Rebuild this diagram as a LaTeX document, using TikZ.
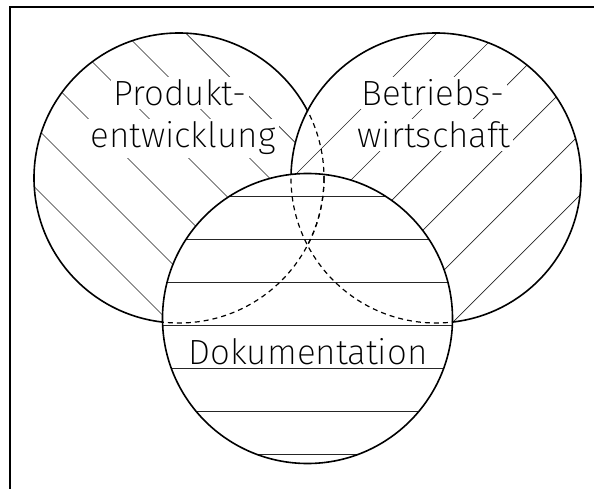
\documentclass[tikz,border=0pt]{standalone}
\usepackage{fontspec}
\newfontfamily\cadfont{Fira Sans ExtraLight}
\begin{document}
\begin{tikzpicture}[x=1pt,y=-1pt,
  outline/.style={line width=1.6pt},
  hidden/.style={line width=1.2pt, dash pattern=on 5pt off 4pt},
  hatch/.style={line width=0.7pt, black!85},
  frameline/.style={line width=1.6pt},
  lbl/.style={fill=white, inner sep=3pt, anchor=base,
    font=\cadfont\fontsize{35}{35}\selectfont}]
\useasboundingbox (0,0) rectangle (594,489);
\def\R{145}
% circle centres
\coordinate (P) at (179,178);
\coordinate (B) at (436,178);
\coordinate (D) at (307.5,318.5);
% open frame
\coordinate (fbl) at (10,489);
\coordinate (ftl) at (10,7);
\coordinate (ftr) at (594,7);
\draw[frameline] (fbl) -- (ftl) -- (ftr);

% Produktentwicklung: back circle, hatched "\"
\fill[white] (P) circle[radius=\R];
\begin{scope}
  \clip (P) circle[radius=\R];
  \foreach \k in {-4,...,5}
    \draw[hatch] (0,{-30.5+61*\k}) -- (600,{569.5+61*\k});
\end{scope}
\draw[outline] (P) circle[radius=\R];

% Betriebswirtschaft: middle circle, hatched "/"
\fill[white] (B) circle[radius=\R];
\begin{scope}
  \clip (B) circle[radius=\R];
  \foreach \k in {5,...,13}
    \draw[hatch] (-100,{143+61*\k}) -- (700,{-657+61*\k});
\end{scope}
\draw[outline] (B) circle[radius=\R];

% Dokumentation: front circle, horizontal hatching
\fill[white] (D) circle[radius=\R];
\begin{scope}
  \clip (D) circle[radius=\R];
  \foreach \k in {0,...,6}
    \draw[hatch] (100,{196.5+43*\k}) -- (520,{196.5+43*\k});
\end{scope}
\draw[outline] (D) circle[radius=\R];

% labels knock out the hatching behind them
\node[lbl] (t1) at (180,106) {Produkt-};
\node[lbl] (t2) at (183,148) {entwicklung};
\node[lbl] (t3) at (433,106) {Betriebs-};
\node[lbl] (t4) at (434,148) {wirtschaft};
\node[lbl] (t5) at (308,364) {Dokumentation};

% hidden outlines behind the circles in front
\begin{scope}
  \clip (B) circle[radius=\R];
  \draw[hidden] (P) circle[radius=\R];
\end{scope}
\begin{scope}
  \clip (D) circle[radius=\R];
  \draw[hidden] (P) circle[radius=\R];
  \draw[hidden] (B) circle[radius=\R];
\end{scope}
\end{tikzpicture}
\end{document}
